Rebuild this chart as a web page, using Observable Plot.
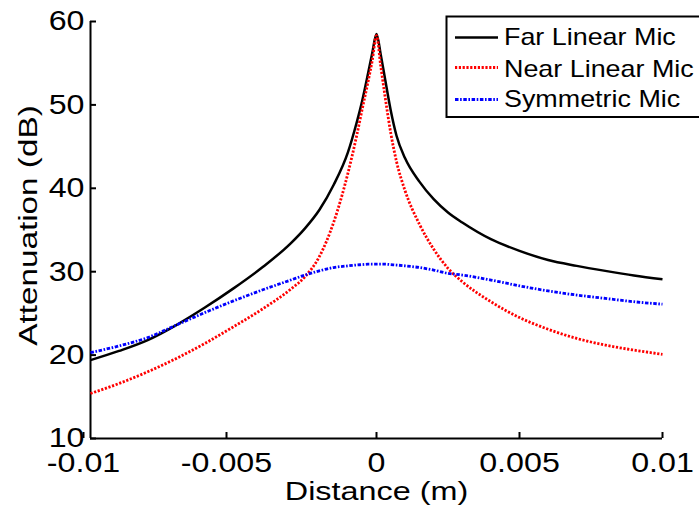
<!DOCTYPE html>
<html>
<head>
<meta charset="utf-8">
<script src="https://cdn.jsdelivr.net/npm/d3@7"></script>
<script src="https://cdn.jsdelivr.net/npm/@observablehq/plot@0.6"></script>
<style>
  html, body { margin: 0; padding: 0; background: #fff; overflow: hidden; }
  #wrap { position: relative; width: 699px; height: 511px; }
  #legend { position: absolute; left: 0; top: 0; pointer-events: none; }
</style>
</head>
<body>
<div id="wrap"></div>
<script>
// ---- data ----
const seriesNames = ["Far Linear Mic", "Near Linear Mic", "Symmetric Mic"];
const distance = [-0.01, -0.009, -0.008, -0.007, -0.006, -0.005, -0.004, -0.003, -0.0025, -0.002, -0.0015, -0.001, -0.0007, -0.0005, -0.0003, -0.00015, 0, 0.00015, 0.0003, 0.0005, 0.0007, 0.001, 0.0015, 0.002, 0.0025, 0.003, 0.004, 0.005, 0.006, 0.007, 0.008, 0.009, 0.01];
const farLinear = [19.4, 20.5, 21.8, 23.6, 25.7, 28.0, 30.5, 33.4, 35.2, 37.4, 40.4, 44.3, 47.8, 50.5, 53.7, 56.2, 58.5, 56.0, 53.1, 49.3, 46.3, 43.6, 40.8, 38.7, 37.1, 35.9, 33.9, 32.5, 31.4, 30.7, 30.1, 29.55, 29.1];
const nearLinear = [15.4, 16.6, 18.0, 19.6, 21.4, 23.4, 25.5, 27.9, 29.4, 31.8, 35.9, 41.8, 46.2, 49.5, 52.7, 55.3, 58.3, 54.6, 51.0, 46.6, 43.2, 39.7, 35.7, 32.7, 30.4, 28.8, 26.4, 24.5, 23.1, 22.0, 21.2, 20.6, 20.1];
const symmetric = [20.3, 21.1, 22.1, 23.6, 25.1, 26.5, 27.8, 29.0, 29.6, 30.1, 30.5, 30.7, 30.8, 30.85, 30.9, 30.9, 30.9, 30.9, 30.9, 30.85, 30.8, 30.7, 30.5, 30.2, 29.8, 29.6, 29.0, 28.3, 27.7, 27.2, 26.8, 26.4, 26.1];
const xTicks = [-0.01, -0.005, 0, 0.005, 0.01];
const xTickLabels = ["-0.01", "-0.005", "0", "0.005", "0.01"];
const yTicks = [10, 20, 30, 40, 50, 60];
const yTickLabels = ["10", "20", "30", "40", "50", "60"];
const xLabel = "Distance (m)";
const yLabel = "Attenuation (dB)";

const colors = ["#000000", "#ff0000", "#0000ff"];
const dashes = [null, "2.2,1.6", "3.5,1.6,1.6,1.6"];
const widths = [2.5, 2.8, 2.8];

const allSeries = [farLinear, nearLinear, symmetric].map((vals, s) =>
  distance.map((x, i) => ({x, y: vals[i], series: seriesNames[s]})));

const fmtX = d => xTickLabels[xTicks.indexOf(d)];
const fmtY = d => yTickLabels[yTicks.indexOf(d)];
const font = "'Liberation Sans', Arial, Helvetica, sans-serif";

const chart = Plot.plot({
  width: 699,
  height: 511,
  marginLeft: 90,
  marginRight: 37,
  marginTop: 21,
  marginBottom: 73,
  style: {fontFamily: font, fontSize: "28px", color: "#000", background: "#fff"},
  x: {domain: [-0.01, 0.01]},
  y: {domain: [10, 60]},
  marks: [
    Plot.ruleY([10], {stroke: "#000", strokeWidth: 2}),
    Plot.ruleX([-0.01], {stroke: "#000", strokeWidth: 2}),
    Plot.axisX(xTicks.filter(d => d < 0), {tickSize: -6, tickPadding: 20, tickFormat: fmtX, fontSize: 28, strokeWidth: 2, label: null, dx: -7}),
    Plot.axisX(xTicks.filter(d => d >= 0), {tickSize: -6, tickPadding: 20, tickFormat: fmtX, fontSize: 28, strokeWidth: 2, label: null}),
    Plot.axisY(yTicks, {tickSize: -6, tickPadding: 12, tickFormat: fmtY, fontSize: 28, strokeWidth: 2, label: null}),
    ...allSeries.map((data, s) => Plot.line(data, {
      x: "x", y: "y", stroke: colors[s], strokeWidth: widths[s],
      strokeDasharray: dashes[s], strokeLinecap: "butt", strokeLinejoin: "round", curve: "monotone-x"
    })),
    Plot.text([xLabel], {frameAnchor: "bottom", textAnchor: "middle", dy: 53, fontSize: 25.5, lineAnchor: "middle", fill: "#000"}),
    Plot.text([yLabel], {frameAnchor: "left", textAnchor: "middle", rotate: -90, dx: -62, dy: -4.5, fontSize: 26, lineAnchor: "middle", fill: "#000"})
  ]
});

const wrap = document.getElementById("wrap");
wrap.appendChild(chart);

function stretchLen(selector, factor) {
  chart.querySelectorAll(selector).forEach(t => {
    const L = t.getComputedTextLength();
    if (L > 0) {
      t.setAttribute("textLength", (L * factor).toFixed(1));
      t.setAttribute("lengthAdjust", "spacingAndGlyphs");
    }
  });
}
// widen a text along its reading direction, around its own anchor
function stretchScale(content, factor) {
  Array.from(chart.querySelectorAll("text")).filter(t => t.textContent === content).forEach(t => {
    const xa = t.getAttribute("x");
    const ya = t.getAttribute("y");
    let pre = "";
    if (xa !== null && !isNaN(+xa)) { pre += ` translate(${+xa},0)`; t.removeAttribute("x"); }
    if (ya !== null && !isNaN(+ya)) { pre += ` translate(0,${+ya})`; t.removeAttribute("y"); }
    const tr = t.getAttribute("transform") || "";
    t.setAttribute("transform", `${tr}${pre} scale(${factor},1)`);
  });
}
stretchLen('g[aria-label="x-axis tick label"] text, g[aria-label="y-axis tick label"] text', 1.15);
stretchScale(xLabel, 1.27);
stretchScale(yLabel, 1.28);

// ---- legend (drawn inside the plot area, top-right) ----
const leg = d3.select(wrap).append("svg")
  .attr("id", "legend").attr("width", 699).attr("height", 511);
leg.append("rect")
  .attr("x", 446.5).attr("y", 16.5).attr("width", 262).attr("height", 100.5)
  .attr("fill", "#fff").attr("stroke", "#000").attr("stroke-width", 2);
const rowBase = [45, 76.5, 106.5];
const rowLine = [37.5, 67.5, 99.5];
seriesNames.forEach((name, s) => {
  leg.append("line")
    .attr("x1", 455).attr("x2", 498).attr("y1", rowLine[s]).attr("y2", rowLine[s])
    .attr("stroke", colors[s]).attr("stroke-width", widths[s])
    .attr("stroke-dasharray", dashes[s]);
  const t = leg.append("text")
    .attr("x", 504).attr("y", rowBase[s])
    .attr("font-family", font).attr("font-size", 24).attr("fill", "#000")
    .text(name);
  const L = t.node().getComputedTextLength();
  t.attr("textLength", (L * 1.12).toFixed(1)).attr("lengthAdjust", "spacingAndGlyphs");
});
</script>
</body>
</html>
